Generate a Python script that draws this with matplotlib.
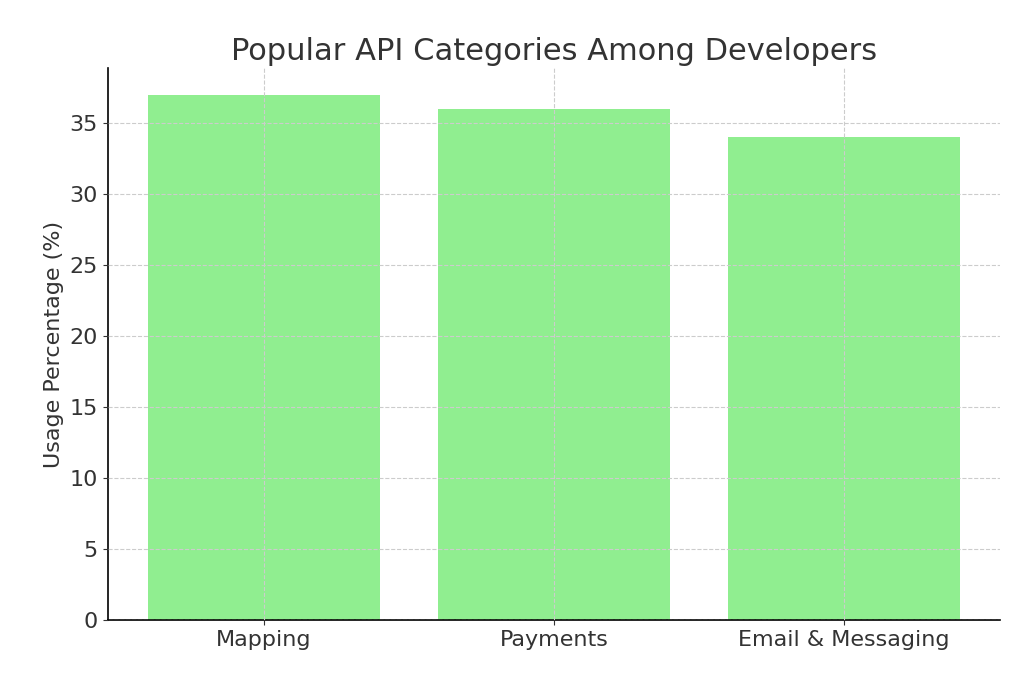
import matplotlib
matplotlib.use("Agg")
import matplotlib.pyplot as plt

categories = ["Mapping", "Payments", "Email & Messaging"]
usage = [37, 36, 34]

fig, ax = plt.subplots(figsize=(10.24, 6.83), dpi=100)
ax.bar(categories, usage, color="lightgreen", width=0.8)
ax.set_title("Popular API Categories Among Developers", fontsize=22, color="#333333")
ax.set_ylabel("Usage Percentage (%)", fontsize=16, color="#333333")
ax.tick_params(labelsize=16, colors="#333333")
ax.grid(True, linestyle="--", color="#cccccc", linewidth=0.8)
ax.set_axisbelow(False)
for s in ("top", "right"):
    ax.spines[s].set_visible(False)
ax.spines["left"].set_linewidth(1.2)
ax.spines["bottom"].set_linewidth(1.2)
fig.subplots_adjust(left=0.105, right=0.977, top=0.9, bottom=0.092)
fig.savefig("out.png")
